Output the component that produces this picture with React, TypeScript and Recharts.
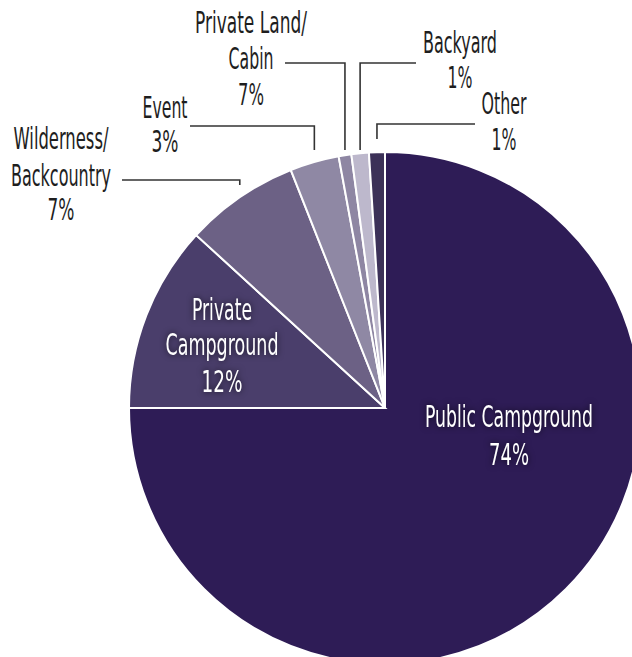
import { Cell, Pie, PieChart } from "recharts"

const categories = [
  "Public Campground",
  "Private Campground",
  "Wilderness/Backcountry",
  "Event",
  "Private Land/Cabin",
  "Backyard",
  "Other",
]
const shares = [75, 11.8, 7.2, 3.1, 0.8, 1.1, 1.0]
const shownPercents = ["74%", "12%", "7%", "3%", "7%", "1%", "1%"]
const labelLines = [
  ["Public Campground"],
  ["Private", "Campground"],
  ["Wilderness/", "Backcountry"],
  ["Event"],
  ["Private Land/", "Cabin"],
  ["Backyard"],
  ["Other"],
]
const colors = ["#2e1c56", "#4a3e6b", "#6c6185", "#8f88a4", "#8e86a3", "#bdb8cc", "#3c3158"]

const data = categories.map((name, i) => ({ name, value: shares[i] }))

// label layout: centre x, baselines, text widths, leader line (elbow y, start x, end y)
const layout = [
  { x: 509, ys: [427, 465], w: [168, 40], inside: true },
  { x: 222, ys: [320, 355, 392], w: [60, 113, 41], inside: true },
  { x: 61, ys: [149, 186, 220], w: [95, 100, 27], lead: { y: 180, from: 122, end: 185 } },
  { x: 165, ys: [118, 152], w: [45, 27], lead: { y: 126, from: 190, end: 150 } },
  { x: 251, ys: [33, 69, 105], w: [112, 45, 26], lead: { y: 63, from: 285, end: 150 } },
  { x: 460, ys: [53, 88], w: [74, 25], lead: { y: 63, from: 416, end: 150 } },
  { x: 504, ys: [114, 150], w: [45, 25], lead: { y: 124, from: 475, end: 139 } },
]

const font = "'Liberation Sans Narrow', 'DejaVu Sans Condensed', 'Liberation Sans', sans-serif"

function renderLabel(props: any) {
  const { cx, cy, outerRadius, midAngle, index } = props
  const l = layout[index]
  const lines = [...labelLines[index], shownPercents[index]]
  const fill = l.inside ? "#ffffff" : "#1e1e1e"
  let leader = null
  if (l.lead) {
    const rad = (-midAngle * Math.PI) / 180
    const tx = cx + outerRadius * Math.cos(rad)
    leader = (
      <polyline
        points={`${l.lead.from},${l.lead.y} ${tx},${l.lead.y} ${tx},${l.lead.end}`}
        fill="none"
        stroke="#333"
        strokeWidth={1.6}
      />
    )
  }
  return (
    <g key={`lbl-${index}`}>
      {leader}
      {lines.map((t, j) => (
        <text
          key={j}
          x={l.x}
          y={l.ys[j]}
          textAnchor="middle"
          fontFamily={font}
          fontSize={30}
          fill={fill}
          textLength={l.w[j]}
          lengthAdjust="spacingAndGlyphs"
          style={l.inside ? { filter: "drop-shadow(0 0 3px rgba(0,0,0,0.7))" } : undefined}
        >
          {t}
        </text>
      ))}
    </g>
  )
}

export default function App() {
  return (
    <div style={{ position: "absolute", left: 0, top: 0, width: 632, height: 657, overflow: "hidden", background: "#fff" }}>
      <PieChart width={632} height={657} margin={{ top: 0, right: 0, bottom: 0, left: 0 }}>
        <Pie
          data={data}
          dataKey="value"
          cx={385}
          cy={408}
          outerRadius={256}
          startAngle={90}
          endAngle={-270}
          stroke="#ffffff"
          strokeWidth={2}
          labelLine={false}
          label={renderLabel}
          isAnimationActive={false}
        >
          {data.map((d, i) => (
            <Cell key={d.name} fill={colors[i]} />
          ))}
        </Pie>
      </PieChart>
    </div>
  )
}
